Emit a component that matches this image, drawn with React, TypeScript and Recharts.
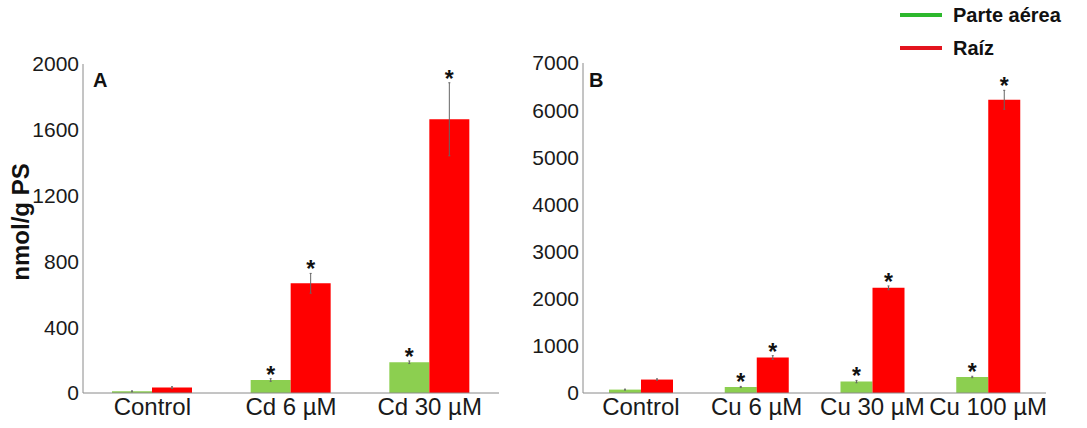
import React from 'react';
import { BarChart, Bar, XAxis, YAxis, ErrorBar, LabelList } from 'recharts';

const cdCategories = ['Control', 'Cd 6 µM', 'Cd 30 µM'];
const cdShoot = [10, 79, 187];
const cdShootErr = [3, 8, 8];
const cdRoot = [33, 667, 1664];
const cdRootErr = [5, 60, 222];
const cdShootStar = [false, true, true];
const cdRootStar = [false, true, true];
const cdTicks = [0, 400, 800, 1200, 1600, 2000];

const cuCategories = ['Control', 'Cu 6 µM', 'Cu 30 µM', 'Cu 100 µM'];
const cuShoot = [72, 128, 242, 340];
const cuShootErr = [10, 12, 25, 15];
const cuRoot = [285, 752, 2231, 6220];
const cuRootErr = [15, 40, 40, 200];
const cuShootStar = [false, true, true, true];
const cuRootStar = [false, true, true, true];
const cuTicks = [0, 1000, 2000, 3000, 4000, 5000, 6000, 7000];

const seriesNames = ['Parte aérea', 'Raíz'];
const yLabel = 'nmol/g PS';

const FONT = '"Liberation Sans", Arial, Helvetica, sans-serif';
const GREEN = '#8ccf50';
const RED = '#ff0000';
const LEG_GREEN = '#2db82d';
const LEG_RED = '#e3141e';
const BOX = '#8a8a8a';

const buildData = (cats: string[], s: number[], se: number[], r: number[], re: number[]) =>
  cats.map((name, i) => ({ name, shoot: s[i], shootErr: se[i], root: r[i], rootErr: re[i] }));

const cdData = buildData(cdCategories, cdShoot, cdShootErr, cdRoot, cdRootErr);
const cuData = buildData(cuCategories, cuShoot, cuShootErr, cuRoot, cuRootErr);

const starLabel = (stars: boolean[], errs: number[], values: number[]) => (props: any) => {
  const { x, y, width, height, index } = props;
  if (!stars[index]) return null;
  const v = values[index];
  const errPx = v > 0 ? (errs[index] * Number(height)) / v : 0;
  const cx = Number(x) + Number(width) / 2;
  const top = Number(y) - errPx;
  return (
    <text x={cx} y={top + 4} textAnchor="middle" fontSize={23} fontWeight="bold" fontFamily={FONT} fill="#111">
      *
    </text>
  );
};

type PanelProps = {
  data: any[];
  ticks: number[];
  max: number;
  width: number;
  yWidth: number;
  right: number;
  top: number;
  barSize: number;
  shoot: number[];
  shootErr: number[];
  shootStar: boolean[];
  root: number[];
  rootErr: number[];
  rootStar: boolean[];
};

const Panel = (p: PanelProps) => (
  <BarChart
    width={p.width}
    height={428}
    data={p.data}
    margin={{ top: p.top, right: p.right, bottom: 5, left: 0 }}
    barGap={0}
    barSize={p.barSize}
  >
    <XAxis
      dataKey="name"
      interval={0}
      tickLine={false}
      tickSize={0}
      tickMargin={5}
      height={30}
      axisLine={{ stroke: BOX }}
      tick={{ fontSize: 24, fill: '#1a1a1a', fontFamily: FONT }}
    />
    <XAxis xAxisId="top" dataKey="name" orientation="top" tick={false} tickLine={false} height={0} axisLine={{ stroke: BOX }} />
    <YAxis
      domain={[0, p.max]}
      ticks={p.ticks}
      interval={0}
      tickLine={false}
      tickSize={0}
      tickMargin={4}
      width={p.yWidth}
      axisLine={{ stroke: BOX }}
      tick={{ fontSize: 21, fill: '#1a1a1a', fontFamily: FONT }}
    />
    <YAxis yAxisId="right" orientation="right" domain={[0, p.max]} tick={false} tickLine={false} width={0} axisLine={{ stroke: BOX }} />
    <Bar dataKey="shoot" name={seriesNames[0]} fill={GREEN} isAnimationActive={false}>
      <ErrorBar dataKey="shootErr" width={1} stroke="#666" strokeWidth={1} />
      <LabelList dataKey="shoot" content={starLabel(p.shootStar, p.shootErr, p.shoot)} />
    </Bar>
    <Bar dataKey="root" name={seriesNames[1]} fill={RED} isAnimationActive={false}>
      <ErrorBar dataKey="rootErr" width={1} stroke="#666" strokeWidth={1} />
      <LabelList dataKey="root" content={starLabel(p.rootStar, p.rootErr, p.root)} />
    </Bar>
  </BarChart>
);

export default function App() {
  return (
    <div
      style={{
        position: 'absolute',
        left: 0,
        top: 0,
        width: 1087,
        height: 428,
        background: '#fff',
        fontFamily: FONT,
        overflow: 'hidden',
      }}
    >
      <div style={{ position: 'absolute', left: 0, top: 0 }}>
        <Panel
          data={cdData}
          ticks={cdTicks}
          max={2000}
          width={530}
          yWidth={83}
          right={31}
          top={64}
          barSize={40}
          shoot={cdShoot}
          shootErr={cdShootErr}
          shootStar={cdShootStar}
          root={cdRoot}
          rootErr={cdRootErr}
          rootStar={cdRootStar}
        />
      </div>
      <div style={{ position: 'absolute', left: 530, top: 0 }}>
        <Panel
          data={cuData}
          ticks={cuTicks}
          max={7000}
          width={557}
          yWidth={53}
          right={41}
          top={63}
          barSize={32}
          shoot={cuShoot}
          shootErr={cuShootErr}
          shootStar={cuShootStar}
          root={cuRoot}
          rootErr={cuRootErr}
          rootStar={cuRootStar}
        />
      </div>
      <div style={{ position: 'absolute', left: 93, top: 70, fontSize: 20, fontWeight: 'bold', color: '#111', lineHeight: '20px' }}>A</div>
      <div style={{ position: 'absolute', left: 589, top: 70, fontSize: 20, fontWeight: 'bold', color: '#111', lineHeight: '20px' }}>B</div>
      <div
        style={{
          position: 'absolute',
          left: 21,
          top: 222,
          transform: 'translate(-50%, -50%) rotate(-90deg)',
          fontSize: 24,
          fontWeight: 'bold',
          color: '#111',
          whiteSpace: 'nowrap',
          lineHeight: '24px',
        }}
      >
        {yLabel}
      </div>
      {[LEG_GREEN, LEG_RED].map((c, i) => (
        <div key={i} style={{ position: 'absolute', left: 900, top: 3 + i * 33, height: 24, display: 'flex', alignItems: 'center' }}>
          <div style={{ width: 42, height: 4, background: c }} />
          <div style={{ marginLeft: 11, fontSize: 20, fontWeight: 'bold', color: '#111', whiteSpace: 'nowrap' }}>{seriesNames[i]}</div>
        </div>
      ))}
    </div>
  );
}
